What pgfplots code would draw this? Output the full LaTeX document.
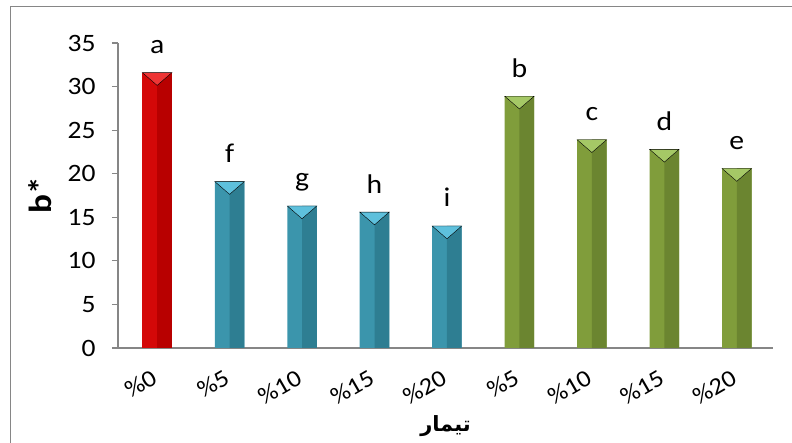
\documentclass[border=0pt]{standalone}
\usepackage{fontspec}
\setmainfont{Carlito}[FakeStretch=1.1]
\newfontfamily\arabicfont[Script=Arabic]{DejaVu Sans}
\TeXXeTstate=1
\usepackage{pgfplots}
\usepackage{pgfplotstable}
\pgfplotsset{compat=1.18}

\definecolor{redL}{HTML}{D40808}
\definecolor{redD}{HTML}{B80000}
\definecolor{redT}{HTML}{EE3535}
\definecolor{blueL}{HTML}{3B95AC}
\definecolor{blueD}{HTML}{2E7E92}
\definecolor{blueT}{HTML}{5EC0DC}
\definecolor{greenL}{HTML}{809D3B}
\definecolor{greenD}{HTML}{6B8530}
\definecolor{greenT}{HTML}{A5C866}
\definecolor{axgray}{HTML}{868686}

% b* values
\pgfplotstableread{
x y lab
0 31.6 a
}\redtab
\pgfplotstableread{
x y lab
1 19.1 f
2 16.3 g
3 15.6 h
4 14.0 i
}\bluetab
\pgfplotstableread{
x y lab
5 28.9 b
6 23.9 c
7 22.8 d
8 20.6 e
}\greentab

\pgfplotsset{
  fullbar/.style={ybar, bar width=29.5pt, bar shift=0pt, draw=none, fill=#1},
  halfbar/.style={ybar, bar width=14.75pt, bar shift=7.4pt, draw=none, fill=#1},
  bevel/.style={only marks, mark=triangle*, mark size=17pt,
    mark options={draw=none, fill=#1, yshift=-4.3pt, yscale=-0.5}},
  letters/.style={nodes near coords, point meta=explicit symbolic,
    nodes near coords style={anchor=base, yshift=19pt,
      font=\fontsize{27}{30}\selectfont, text=black}},
}

\begin{document}
\begin{tikzpicture}
\path[use as bounding box] (0,0) rectangle (792pt,443pt);
\draw[axgray, line width=1pt] (10pt,-2pt) -- (10pt,436pt) -- (800pt,436pt);
\begin{axis}[
    at={(118pt,95pt)}, anchor=south west,
    scale only axis,
    width=655pt, height=305pt,
    xmin=-0.54, xmax=8.5,
    ymin=0, ymax=35,
    ytick={0,5,...,35},
    xtick={0,...,8},
    xticklabels={\%0,\%5,\%10,\%15,\%20,\%5,\%10,\%15,\%20},
    axis x line*=bottom, axis y line*=left,
    axis line style={axgray, line width=1.5pt, -},
    x axis line style={-}, y axis line style={-},
    xtick style={draw=none},
    ytick style={axgray, line width=1.2pt},
    tick align=outside, major tick length=6pt,
    tick label style={font=\fontsize{25}{28}\selectfont},
    /pgf/number format/assume math mode=true,
    yticklabel style={xshift=-13pt},
    xticklabel style={rotate=30, anchor=north east, xshift=-12pt, yshift=-8pt,
      inner sep=1pt, font=\fontsize{24}{28}\selectfont},
    ylabel={\bfseries b*},
    ylabel style={at={(axis description cs:-0.119,0.5)}, anchor=center,
      font=\fontsize{32}{36}\selectfont},
    xlabel={\arabicfont\bfseries\beginR تیمار\endR},
    xlabel style={at={(axis description cs:0.5,-0.255)}, anchor=center,
      font=\fontsize{21}{24}\selectfont},
    clip=false,
]
\addplot[fullbar=redL, letters] table[x=x, y=y, meta=lab]{\redtab};
\addplot[halfbar=redD] table[x=x, y=y]{\redtab};
\addplot[bevel=redT] table[x=x, y=y]{\redtab};

\addplot[fullbar=blueL, letters] table[x=x, y=y, meta=lab]{\bluetab};
\addplot[halfbar=blueD] table[x=x, y=y]{\bluetab};
\addplot[bevel=blueT] table[x=x, y=y]{\bluetab};

\addplot[fullbar=greenL, letters] table[x=x, y=y, meta=lab]{\greentab};
\addplot[halfbar=greenD] table[x=x, y=y]{\greentab};
\addplot[bevel=greenT] table[x=x, y=y]{\greentab};
\end{axis}
\end{tikzpicture}
\end{document}
